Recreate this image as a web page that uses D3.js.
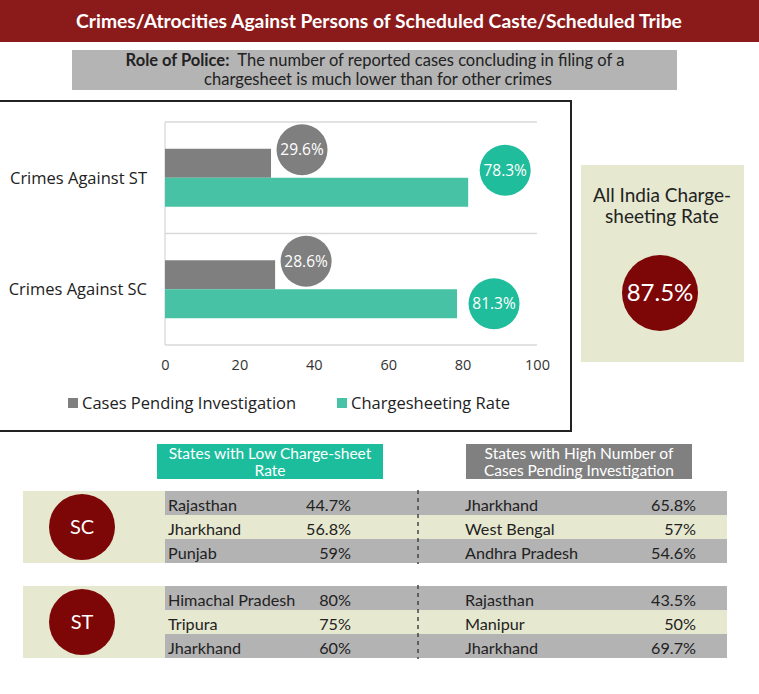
<!DOCTYPE html>
<html>
<head>
<meta charset="utf-8">
<script src="https://cdn.jsdelivr.net/npm/d3@7"></script>
<style>
  body { margin: 0; background: #fff; }
  svg { display: block; }
</style>
</head>
<body>
<div id="chart"></div>
<script>
// chart data
var categories = ["Crimes Against ST", "Crimes Against SC"];
var pendingValues = [28.5, 29.6];        // bar lengths as drawn
var chargesheetValues = [81.5, 78.5];
var pendingLabels = ["29.6%", "28.6%"];  // labels as printed
var chargesheetLabels = ["78.3%", "81.3%"];
var xTicks = [0, 20, 40, 60, 80, 100];
var seriesNames = ["Cases Pending Investigation", "Chargesheeting Rate"];

var allIndiaRate = "87.5%";

// tables
var groups = ["SC", "ST"];
var lowStates = [["Rajasthan", "Jharkhand", "Punjab"], ["Himachal Pradesh", "Tripura", "Jharkhand"]];
var lowValues = [["44.7%", "56.8%", "59%"], ["80%", "75%", "60%"]];
var pendStates = [["Jharkhand", "West Bengal", "Andhra Pradesh"], ["Rajasthan", "Manipur", "Jharkhand"]];
var pendValues = [["65.8%", "57%", "54.6%"], ["43.5%", "50%", "69.7%"]];

var W = 759, H = 694;
var RED = "#8b1a1a", DARKRED = "#7d0606", GREY = "#7f7f7f", TEAL = "#47c2a4",
    TEAL_DOT = "#1fbd9b", BEIGE = "#e6e8cf", ROWGREY = "#b3b3b3";
var LATO = "Lato, 'Open Sans', sans-serif";
var OPEN = "'Open Sans', sans-serif";

var svg = d3.select("#chart").append("svg")
    .attr("width", W)
    .attr("height", H);

// title band
svg.append("rect").attr("x", 0).attr("y", 0).attr("width", W).attr("height", 42).attr("fill", RED);
svg.append("text")
    .attr("x", 379).attr("y", 21).attr("dy", "0.35em")
    .attr("text-anchor", "middle")
    .style("font-family", LATO).style("font-weight", "bold").style("font-size", "19.3px")
    .attr("fill", "#fff")
    .text("Crimes/Atrocities Against Persons of Scheduled Caste/Scheduled Tribe");

// subtitle box
svg.append("rect").attr("x", 72).attr("y", 50).attr("width", 605).attr("height", 40).attr("fill", "#b4b4b4");
var sub = svg.append("text")
    .attr("x", 375).attr("y", 60).attr("dy", "0.35em")
    .attr("text-anchor", "middle")
    .style("font-family", LATO).style("font-size", "16.5px").attr("fill", "#222");
sub.append("tspan").style("font-weight", "bold").text("Role of Police:");
sub.append("tspan").text("\u00a0 The number of reported cases concluding in filing of a");
svg.append("text")
    .attr("x", 378).attr("y", 79).attr("dy", "0.35em")
    .attr("text-anchor", "middle")
    .style("font-family", LATO).style("font-size", "16.5px").attr("fill", "#222")
    .text("chargesheet is much lower than for other crimes");

// chart frame
svg.append("rect").attr("x", -2).attr("y", 101).attr("width", 573).attr("height", 330)
    .attr("fill", "none").attr("stroke", "#222").attr("stroke-width", 2);

var x = d3.scaleLinear().domain([0, 100]).range([165, 537]);
var y = d3.scaleBand().domain(categories).range([122, 345])
    .paddingInner(0.48).paddingOuter(0.24);
var bw = y.bandwidth() / 2;
var step = y.step();

var plot = svg.append("g");

// gridlines at band edges
plot.selectAll("line.grid")
    .data([0, 1, 2])
    .enter().append("line")
    .attr("class", "grid")
    .attr("x1", x(0)).attr("x2", x(100))
    .attr("y1", function (d) { return 122 + d * step; })
    .attr("y2", function (d) { return 122 + d * step; })
    .attr("stroke", "#d9d9d9").attr("stroke-width", 1.3);
plot.append("line")
    .attr("x1", x(0)).attr("x2", x(0)).attr("y1", 122).attr("y2", 345)
    .attr("stroke", "#d9d9d9").attr("stroke-width", 1.3);

// bars
plot.selectAll("rect.pending")
    .data(categories)
    .enter().append("rect")
    .attr("class", "pending")
    .attr("x", x(0))
    .attr("y", function (d) { return y(d); })
    .attr("width", function (d, i) { return x(pendingValues[i]) - x(0); })
    .attr("height", bw)
    .attr("fill", GREY);

plot.selectAll("rect.charge")
    .data(categories)
    .enter().append("rect")
    .attr("class", "charge")
    .attr("x", x(0))
    .attr("y", function (d) { return y(d) + bw; })
    .attr("width", function (d, i) { return x(chargesheetValues[i]) - x(0); })
    .attr("height", bw)
    .attr("fill", TEAL);

// data label bubbles
var tealNudge = [-22, 0];
var bubbles = [];
categories.forEach(function (c, i) {
    bubbles.push({ cx: x(pendingValues[i]) + 31, cy: y(c) + 1, fill: GREY, text: pendingLabels[i] });
    bubbles.push({ cx: x(chargesheetValues[i]) + 37, cy: y(c) + bw * 1.5 + tealNudge[i], fill: TEAL_DOT, text: chargesheetLabels[i] });
});
var bub = plot.selectAll("g.bubble").data(bubbles).enter().append("g").attr("class", "bubble");
bub.append("circle")
    .attr("cx", function (d) { return d.cx; })
    .attr("cy", function (d) { return d.cy; })
    .attr("r", 25.5)
    .attr("fill", function (d) { return d.fill; });
bub.append("text")
    .attr("x", function (d) { return d.cx; })
    .attr("y", function (d) { return d.cy; })
    .attr("dy", "0.35em")
    .attr("text-anchor", "middle")
    .style("font-family", OPEN).style("font-size", "15.5px")
    .attr("fill", "#fff")
    .text(function (d) { return d.text; });

// category labels
plot.selectAll("text.cat")
    .data(categories)
    .enter().append("text")
    .attr("class", "cat")
    .attr("x", 147)
    .attr("y", function (d) { return y(d) + bw; })
    .attr("dy", "0.35em")
    .attr("text-anchor", "end")
    .style("font-family", OPEN).style("font-size", "16.5px")
    .attr("fill", "#222")
    .text(function (d) { return d; });

// x axis
var xAxis = d3.axisBottom(x).tickValues(xTicks).tickSize(0).tickPadding(15);
var gx = plot.append("g").attr("transform", "translate(0,345)").call(xAxis);
gx.select(".domain").remove();
gx.selectAll("text")
    .style("font-family", OPEN).style("font-size", "14.5px").attr("fill", "#333");

// legend
var legend = plot.selectAll("g.leg")
    .data(seriesNames)
    .enter().append("g").attr("class", "leg")
    .attr("transform", function (d, i) { return "translate(" + (i === 0 ? 68 : 337) + ",403)"; });
legend.append("rect")
    .attr("x", 0).attr("y", -5).attr("width", 10).attr("height", 10)
    .attr("fill", function (d, i) { return i === 0 ? GREY : TEAL; });
legend.append("text")
    .attr("x", 14).attr("y", 0).attr("dy", "0.35em")
    .style("font-family", OPEN).style("font-size", "16.5px").attr("fill", "#222")
    .text(function (d) { return d; });

// all india panel
svg.append("rect").attr("x", 581).attr("y", 165).attr("width", 163).attr("height", 197).attr("fill", BEIGE);
svg.selectAll("text.ai")
    .data(["All India Charge-", "sheeting Rate"])
    .enter().append("text").attr("class", "ai")
    .attr("x", 662).attr("y", function (d, i) { return 195 + i * 21; })
    .attr("dy", "0.35em").attr("text-anchor", "middle")
    .style("font-family", LATO).style("font-size", "19px").attr("fill", "#222")
    .text(function (d) { return d; });
svg.append("circle").attr("cx", 660).attr("cy", 293).attr("r", 38).attr("fill", DARKRED);
svg.append("text")
    .attr("x", 660).attr("y", 293).attr("dy", "0.35em").attr("text-anchor", "middle")
    .style("font-family", LATO).style("font-size", "24px").attr("fill", "#fff")
    .text(allIndiaRate);

// table headers
var headers = [
    { x: 157, w: 226, fill: "#1cbd9c", lines: ["States with Low Charge-sheet", "Rate"] },
    { x: 466, w: 226, fill: "#808080", lines: ["States with High Number of", "Cases Pending Investigation"] }
];
var hd = svg.selectAll("g.hd").data(headers).enter().append("g").attr("class", "hd");
hd.append("rect")
    .attr("x", function (d) { return d.x; }).attr("y", 444)
    .attr("width", function (d) { return d.w; }).attr("height", 35)
    .attr("fill", function (d) { return d.fill; });
hd.each(function (d) {
    d3.select(this).selectAll("text").data(d.lines).enter().append("text")
        .attr("x", d.x + d.w / 2).attr("y", function (t, i) { return 454 + i * 16.5; })
        .attr("dy", "0.35em").attr("text-anchor", "middle")
        .style("font-family", LATO).style("font-size", "15.5px").attr("fill", "#fff")
        .text(function (t) { return t; });
});

// table blocks
var blockTop = [491, 586];
var rowH = 24;
groups.forEach(function (g, gi) {
    var top = blockTop[gi];
    var blk = svg.append("g");
    blk.append("rect").attr("x", 23).attr("y", top).attr("width", 143).attr("height", rowH * 3).attr("fill", BEIGE);
    blk.selectAll("rect.row")
        .data([0, 1, 2])
        .enter().append("rect").attr("class", "row")
        .attr("x", 165).attr("y", function (r) { return top + r * rowH; })
        .attr("width", 562).attr("height", rowH)
        .attr("fill", function (r) { return r === 1 ? BEIGE : ROWGREY; });
    blk.append("line")
        .attr("x1", 418).attr("x2", 418).attr("y1", top - 1).attr("y2", top + rowH * 3 + 1)
        .attr("stroke", "#444").attr("stroke-width", 1.5).attr("stroke-dasharray", "4,4");
    blk.append("circle").attr("cx", 82).attr("cy", top + 36).attr("r", 33).attr("fill", DARKRED);
    blk.append("text")
        .attr("x", 82).attr("y", top + 36).attr("dy", "0.35em").attr("text-anchor", "middle")
        .style("font-family", LATO).style("font-size", "20px").attr("fill", "#fff")
        .text(g);

    var cols = [
        { names: lowStates[gi], vals: lowValues[gi], nx: 168, vx: 351 },
        { names: pendStates[gi], vals: pendValues[gi], nx: 465, vx: 696 }
    ];
    cols.forEach(function (c) {
        blk.selectAll(null).data(c.names).enter().append("text")
            .attr("x", c.nx).attr("y", function (t, r) { return top + r * rowH + rowH / 2 + 2; })
            .attr("dy", "0.35em")
            .style("font-family", LATO).style("font-size", "16.2px").attr("fill", "#222")
            .text(function (t) { return t; });
        blk.selectAll(null).data(c.vals).enter().append("text")
            .attr("x", c.vx).attr("y", function (t, r) { return top + r * rowH + rowH / 2 + 2; })
            .attr("dy", "0.35em").attr("text-anchor", "end")
            .style("font-family", LATO).style("font-size", "16.2px").attr("fill", "#222")
            .text(function (t) { return t; });
    });
});
</script>
</body>
</html>
